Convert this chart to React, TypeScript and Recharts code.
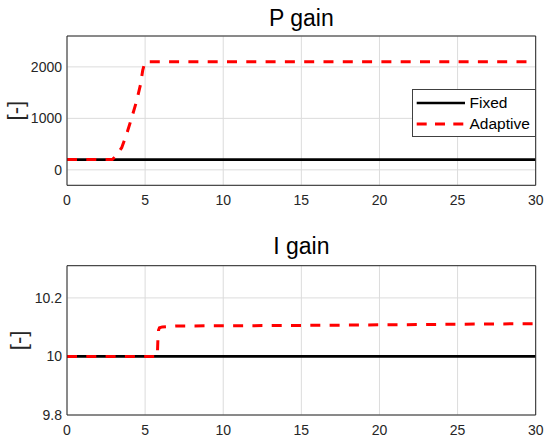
import { LineChart, Line, XAxis, YAxis, CartesianGrid, Legend } from 'recharts';

const timeTicks = [0, 5, 10, 15, 20, 25, 30];
const pTicks = [0, 1000, 2000];
const iTicks = [9.8, 10, 10.2];
const seriesNames = ['Fixed', 'Adaptive'];

const fixedTime = [0, 30];
const pFixed = [200, 200];
const iFixed = [10, 10];

const pTime = [0, 2.9, 3.1, 3.5, 3.8, 4.1, 4.45, 4.7, 4.85, 5.0, 30];
const pAdaptive = [200, 200, 260, 430, 680, 970, 1330, 1650, 1940, 2100, 2100];

const iTime = [0, 5.78, 5.82, 5.86, 5.92, 6.1, 7, 15, 20, 25, 30];
const iAdaptive = [10, 10, 10.06, 10.09, 10.098, 10.101, 10.104, 10.106, 10.108, 10.11, 10.112];

const FONT = '"Liberation Sans", Arial, Helvetica, sans-serif';
const AXIS = '#262626';
const GRID = '#dcdcdc';

function toRows(t: number[], v: number[]) {
  return t.map((x, i) => ({ t: x, v: v[i] }));
}

function LegendBox({ payload }: any) {
  const items = [...(payload || [])].sort(
    (a: any, b: any) => seriesNames.indexOf(a.value) - seriesNames.indexOf(b.value)
  );
  return (
    <div
      style={{
        boxSizing: 'border-box',
        width: 124,
        height: 48,
        border: '1px solid #404040',
        background: '#fff',
        paddingTop: 3,
        fontFamily: FONT,
        fontSize: 15.5,
        color: '#000',
      }}
    >
      {items.map((e: any) => (
        <div key={e.value} style={{ display: 'flex', alignItems: 'center', height: 20.7 }}>
          <svg width={53} height={8} style={{ display: 'block' }}>
            <line
              x1={3.7}
              x2={52}
              y1={4}
              y2={4}
              stroke={e.color}
              strokeWidth={e.payload?.strokeWidth ?? 2.7}
              strokeDasharray={e.payload?.strokeDasharray ? '10 8.3' : undefined}
            />
          </svg>
          <span style={{ marginLeft: 3.5 }}>{e.value}</span>
        </div>
      ))}
    </div>
  );
}

// rotated "[-]" label, bracket centre placed at viewBox.x + dx
function YLabel(props: any) {
  const { viewBox, dx } = props;
  const cx = viewBox.x + dx;
  const cy = viewBox.y + viewBox.height / 2;
  return (
    <text
      x={cx}
      y={cy}
      dy="0.26em"
      transform={`rotate(-90 ${cx} ${cy})`}
      textAnchor="middle"
      fill={AXIS}
      style={{ fontSize: 22, fontFamily: FONT }}
    >
      [-]
    </text>
  );
}

interface PlotProps {
  title: string;
  height: number;
  top: number;
  bottom: number;
  xAxisHeight: number;
  titleOffset: number;
  labelDx: number;
  yDomain: [number, number];
  yTicks: number[];
  fixed: number[];
  adaptTime: number[];
  adaptive: number[];
  legend?: boolean;
}

function GainPlot(p: PlotProps) {
  const fixedRows = toRows(fixedTime, p.fixed);
  const adaptRows = toRows(p.adaptTime, p.adaptive);
  const tickStyle = { fill: AXIS, fontSize: 14, fontFamily: FONT };

  return (
    <LineChart
      width={550}
      height={p.height}
      margin={{ top: p.top, right: 14.3, bottom: p.bottom, left: 7 }}
    >
      <CartesianGrid stroke={GRID} strokeWidth={1} />
      <XAxis
        dataKey="t"
        type="number"
        domain={[0, 30]}
        ticks={timeTicks}
        allowDataOverflow
        height={p.xAxisHeight}
        stroke={AXIS}
        tickLine={false}
        tickSize={0}
        tickMargin={10}
        tick={tickStyle}
      />
      <XAxis
        xAxisId="bt"
        dataKey="t"
        type="number"
        domain={[0, 30]}
        ticks={timeTicks}
        allowDataOverflow
        orientation="bottom"
        mirror
        height={1}
        stroke={AXIS}
        axisLine={false}
        tickSize={5}
        tick={false}
      />
      <XAxis
        xAxisId="top"
        dataKey="t"
        type="number"
        domain={[0, 30]}
        ticks={timeTicks}
        allowDataOverflow
        orientation="top"
        mirror
        height={1}
        stroke={AXIS}
        tickSize={5}
        tick={false}
        label={{ value: p.title, position: 'top', offset: p.titleOffset, fill: '#000', fontSize: 23, fontFamily: FONT }}
      />
      <YAxis
        type="number"
        domain={p.yDomain}
        ticks={p.yTicks}
        allowDataOverflow
        width={60}
        stroke={AXIS}
        tickLine={false}
        tickSize={0}
        tickMargin={5}
        tick={tickStyle}
        label={(lp: any) => <YLabel {...lp} dx={p.labelDx} />}
      />
      <YAxis
        yAxisId="lt"
        type="number"
        domain={p.yDomain}
        ticks={p.yTicks}
        allowDataOverflow
        orientation="left"
        mirror
        width={1}
        stroke={AXIS}
        axisLine={false}
        tickSize={5}
        tick={false}
      />
      <YAxis
        yAxisId="right"
        type="number"
        domain={p.yDomain}
        ticks={p.yTicks}
        allowDataOverflow
        orientation="right"
        mirror
        width={1}
        stroke={AXIS}
        tickSize={5}
        tick={false}
      />
      <Line
        data={fixedRows}
        dataKey="v"
        name="Fixed"
        type="linear"
        stroke="#000000"
        strokeWidth={2.7}
        dot={false}
        activeDot={false}
        isAnimationActive={false}
      />
      <Line
        data={adaptRows}
        dataKey="v"
        name="Adaptive"
        type="linear"
        stroke="#ff0000"
        strokeWidth={3}
        strokeDasharray="10 9.3"
        dot={false}
        activeDot={false}
        isAnimationActive={false}
      />
      {p.legend && (
        <Legend
          layout="vertical"
          align="center"
          verticalAlign="middle"
          content={<LegendBox />}
          wrapperStyle={{ left: 412, top: 89, width: 124, height: 48 }}
        />
      )}
    </LineChart>
  );
}

export default function App() {
  return (
    <div
      style={{
        position: 'absolute',
        left: 0,
        top: 0,
        width: 550,
        height: 443,
        background: '#fff',
        fontFamily: FONT,
      }}
    >
      <div style={{ position: 'absolute', left: 0, top: 0 }}>
        <GainPlot
          title="P gain"
          height={220}
          top={36}
          bottom={4.7}
          xAxisHeight={30}
          titleOffset={10.3}
          labelDx={10}
          yDomain={[-300, 2600]}
          yTicks={pTicks}
          fixed={pFixed}
          adaptTime={pTime}
          adaptive={pAdaptive}
          legend
        />
      </div>
      <div style={{ position: 'absolute', left: 0, top: 220 }}>
        <GainPlot
          title="I gain"
          height={223}
          top={45.7}
          bottom={3}
          xAxisHeight={25}
          titleOffset={11.3}
          labelDx={13.3}
          yDomain={[9.8, 10.31]}
          yTicks={iTicks}
          fixed={iFixed}
          adaptTime={iTime}
          adaptive={iAdaptive}
        />
      </div>
    </div>
  );
}
